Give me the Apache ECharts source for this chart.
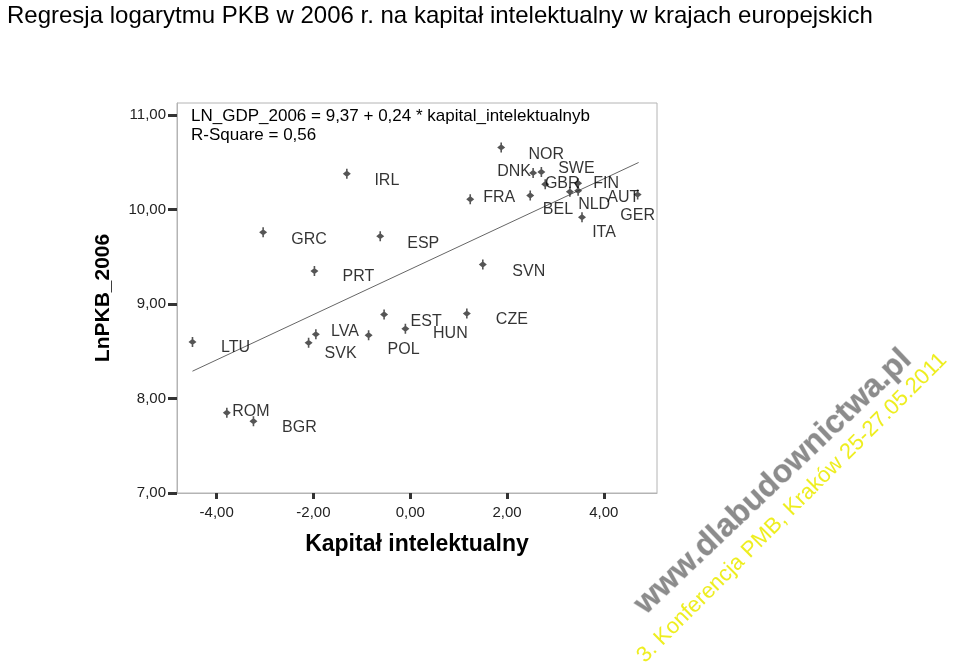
<!DOCTYPE html>
<html>
<head>
<meta charset="utf-8">
<script src="https://cdn.jsdelivr.net/npm/echarts@6/dist/echarts.min.js"></script>
<style>
html,body{margin:0;padding:0;background:#fff;}
#chart{width:960px;height:665px;}
</style>
</head>
<body>
<div id="chart"></div>
<script>
// ---- data ----
const countries = ['LTU','ROM','BGR','GRC','PRT','IRL','ESP','SVK','LVA','POL','EST','HUN','CZE','SVN',
                   'FRA','NOR','DNK','SWE','GBR','FIN','BEL','NLD','AUT','GER','ITA'];
const kapitalIntelektualny = [-4.50,-3.79,-3.24,-3.04,-1.98,-1.31,-0.62,-2.10,-1.95,-0.86,-0.54,-0.10,1.17,1.50,
                   1.24,1.88,2.54,2.71,2.79,3.47,3.30,3.47,2.48,4.70,3.55];
const lnPkb2006 = [8.60,7.85,7.76,9.76,9.35,10.38,9.72,8.59,8.68,8.67,8.89,8.74,8.90,9.42,
                   10.11,10.66,10.39,10.40,10.27,10.28,10.19,10.20,10.15,10.16,9.92];
const regLineX = [-4.50, 4.72];
const regLineY = [8.29, 10.50];
const xTicks = [-4, -2, 0, 2, 4];
const yTicks = [7, 8, 9, 10, 11];
const titleText = 'Regresja logarytmu PKB w 2006 r. na kapitał intelektualny w krajach europejskich';
const equationText = 'LN_GDP_2006 = 9,37 + 0,24 * kapital_intelektualnyb';
const rSquareText = 'R-Square = 0,56';

// ---- label placement (pixel offsets from marker) ----
const labelOffsets = {
  LTU:[43,6], ROM:[24,-1], BGR:[46,6], GRC:[46,7], PRT:[44,6], IRL:[40,7], ESP:[43,7],
  SVK:[32,11], LVA:[29,-3], POL:[35,14], EST:[42,7], HUN:[45,5], CZE:[45,6], SVN:[46,7],
  FRA:[29,-2], NOR:[45,7], DNK:[-19,-1], SWE:[35,-3], GBR:[17,-1], FIN:[28,0],
  BEL:[-12,18], NLD:[16,14], AUT:[93,2], GER:[0,21], ITA:[22,15]
};

const FONT = "'Liberation Sans', Arial, sans-serif";
const fmt = v => v.toFixed(2).replace('.', ',');

const chart = echarts.init(document.getElementById('chart'));
chart.setOption({
  animation: false,
  backgroundColor: '#fff',
  title: {
    text: titleText, left: 2, top: -1,
    textStyle: {fontFamily: FONT, fontSize: 24, fontWeight: 'normal', color: '#000'}
  },
  grid: {left: 177, top: 103, width: 480, height: 390, show: true, borderColor: '#b4b4b4', borderWidth: 1},
  xAxis: {
    type: 'value', min: -4.82, max: 5.10,
    name: 'Kapitał intelektualny', nameLocation: 'middle', nameGap: 40,
    nameTextStyle: {fontFamily: FONT, fontSize: 23, fontWeight: 'bold', color: '#000'},
    axisLine: {show: true, onZero: false, lineStyle: {color: '#b4b4b4', width: 1}},
    axisTick: {show: true, length: 6, customValues: xTicks, lineStyle: {color: '#333', width: 3}},
    axisLabel: {customValues: xTicks, formatter: fmt, margin: 12, fontFamily: FONT, fontSize: 15, color: '#222'},
    splitLine: {show: false}
  },
  yAxis: {
    type: 'value', min: 7, max: 11.13,
    name: 'LnPKB_2006', nameLocation: 'middle', nameGap: 63,
    nameTextStyle: {fontFamily: FONT, fontSize: 21, fontWeight: 'bold', color: '#000'},
    axisLine: {show: true, onZero: false, lineStyle: {color: '#b4b4b4', width: 1}},
    axisTick: {show: true, length: 9, customValues: yTicks, lineStyle: {color: '#333', width: 3}},
    axisLabel: {customValues: yTicks, formatter: fmt, margin: 11, fontFamily: FONT, fontSize: 15, color: '#222'},
    splitLine: {show: false}
  },
  series: [
    {
      type: 'line',
      data: regLineX.map((x, i) => [x, regLineY[i]]),
      symbol: 'none',
      lineStyle: {color: '#666', width: 1},
      silent: true, z: 2
    },
    {
      type: 'scatter',
      symbol: 'path://M0,-3.2 L3.5,0 L0,3.2 L-3.5,0 Z M-0.7,-5 L0.7,-5 L0.7,5 L-0.7,5 Z',
      symbolSize: [8, 10],
      itemStyle: {color: '#2a2a2a'},
      label: {
        show: true, position: 'inside', formatter: '{b}',
        fontFamily: FONT, fontSize: 16, color: '#000', align: 'center', verticalAlign: 'middle'
      },
      data: countries.map((c, i) => ({
        name: c,
        value: [kapitalIntelektualny[i], lnPkb2006[i]],
        label: {offset: labelOffsets[c]}
      })),
      silent: true, z: 3
    }
  ],
  graphic: [
    {type: 'text', left: 191, top: 108, silent: true,
     style: {text: equationText, font: "17px 'Liberation Sans', Arial", fill: '#000'}},
    {type: 'text', left: 191, top: 127, silent: true,
     style: {text: rSquareText, font: "17px 'Liberation Sans', Arial", fill: '#000'}},
    {type: 'text', x: 773, y: 482, rotation: 0.76, silent: true, z: 10,
     style: {text: 'www.dlabudownictwa.pl', font: "bold 32px 'Liberation Sans', Arial",
             fill: '#8c8c8c', stroke: '#d6d6d6', lineWidth: 1, align: 'center', verticalAlign: 'middle'}},
    {type: 'text', x: 792, y: 508, rotation: 0.785, silent: true, z: 10,
     style: {text: '3. Konferencja PMB, Kraków 25-27.05.2011', font: "22px 'Liberation Sans', Arial",
             fill: '#eeee20', align: 'center', verticalAlign: 'middle'}}
  ]
});
</script>
</body>
</html>
